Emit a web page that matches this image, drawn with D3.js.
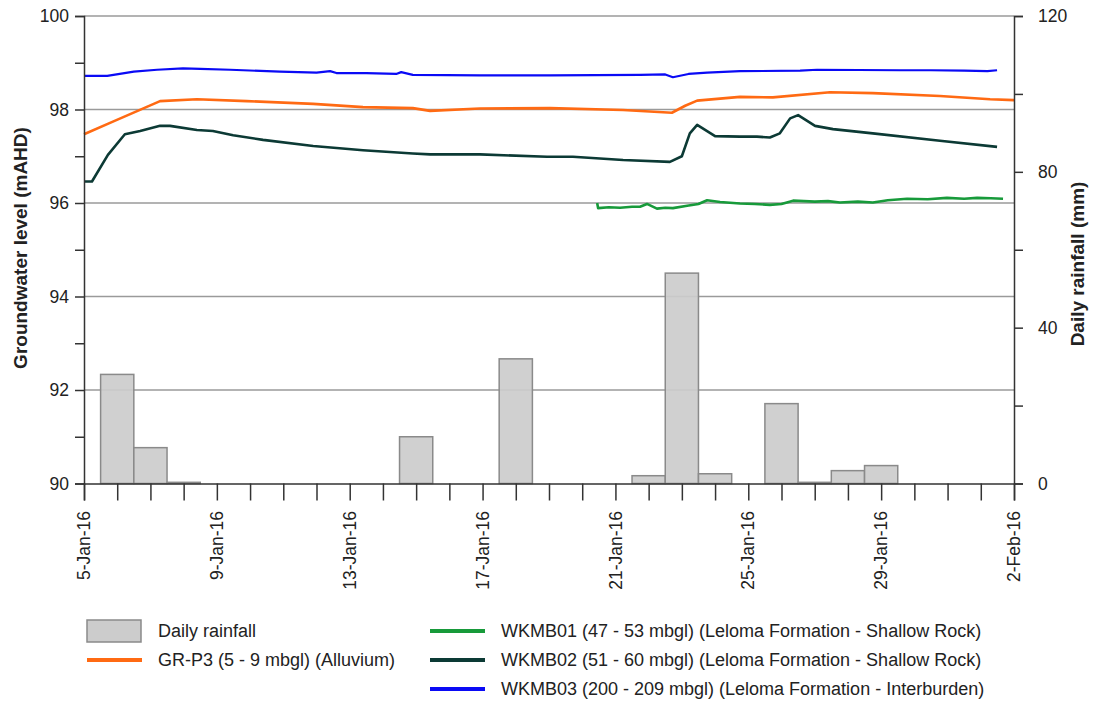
<!DOCTYPE html>
<html>
<head>
<meta charset="utf-8">
<script src="https://cdn.jsdelivr.net/npm/d3@7"></script>
<style>
  body { margin: 0; background: #fff; }
  svg text { font-family: "Liberation Sans", Arial, sans-serif; fill: #222; }
</style>
</head>
<body>
<div id="chart"></div>
<script>
// rainfall, mm per day (bar centred on the day)
var rain_dates = ["2016-01-06", "2016-01-07", "2016-01-08", "2016-01-15", "2016-01-18", "2016-01-22",
    "2016-01-23", "2016-01-24", "2016-01-26", "2016-01-27", "2016-01-28", "2016-01-29"]
var rain_mm = [28, 9.2, 0.3, 12, 32, 2, 54, 2.5, 20.5, 0.3, 3.3, 4.6]

// groundwater levels, time = days after 5-Jan-16 00:00
var grp3_days = [0, 0.87, 2.29, 3.4, 4.9, 6.9, 8.4, 9.9, 10.42, 11.92, 14.03, 16.23, 17.7, 18.1, 18.46,
    19.75, 20.74, 22.46, 23.75, 25.77, 27.28, 28]
var grp3_level = [97.47, 97.74, 98.18, 98.22, 98.18, 98.12, 98.05, 98.03, 97.97, 98.02, 98.03, 97.99, 97.93,
    98.08, 98.19, 98.27, 98.26, 98.37, 98.35, 98.29, 98.22, 98.2]

var wkmb01_days = [15.45, 15.48, 15.8, 16.14, 16.5, 16.74, 16.95, 17.25, 17.5, 17.73, 18.16, 18.5, 18.76,
    19.15, 19.75, 20.2, 20.65, 21.0, 21.35, 22.0, 22.4, 22.76, 23.3, 23.75, 24.2, 24.78, 25.4, 25.98, 26.5, 26.89, 27.3, 27.67]
var wkmb01_level = [96.0, 95.89, 95.91, 95.9, 95.92, 95.92, 95.98, 95.88, 95.9, 95.89, 95.94, 95.98, 96.06,
    96.02, 95.99, 95.98, 95.96, 95.98, 96.05, 96.03, 96.04, 96.01, 96.03, 96.01, 96.06, 96.09, 96.08, 96.11, 96.09, 96.11, 96.1, 96.09]

var wkmb02_days = [0, 0.24, 0.72, 1.23, 1.69, 2.29, 2.59, 3.4, 3.88, 4.49, 5.39, 6.9, 8.4, 9.9, 10.42,
    11.92, 13.94, 14.72, 16.23, 17.64, 18.0, 18.24, 18.46, 19.0, 19.75, 20.26, 20.65, 20.95, 21.26, 21.5,
    22.01, 22.55, 23.75, 25.77, 27.49]
var wkmb02_level = [96.46, 96.46, 97.03, 97.47, 97.54, 97.65, 97.65, 97.56, 97.54, 97.45, 97.35, 97.22,
    97.13, 97.06, 97.04, 97.04, 96.99, 96.99, 96.92, 96.88, 97.0, 97.49, 97.67, 97.43, 97.42, 97.42, 97.4,
    97.49, 97.81, 97.88, 97.65, 97.58, 97.49, 97.33, 97.2]

var wkmb03_days = [0, 0.7, 1.5, 2.2, 2.98, 3.5, 4.4, 5.9, 7.0, 7.41, 7.6, 8.5, 9.4, 9.55, 9.9, 11.92,
    14.03, 16.74, 17.5, 17.73, 18.2, 18.76, 19.75, 21.56, 22.07, 24.57, 25.5, 26.5, 27.2, 27.49]
var wkmb03_level = [98.72, 98.72, 98.81, 98.85, 98.88, 98.87, 98.85, 98.81, 98.79, 98.82, 98.78, 98.78,
    98.76, 98.8, 98.74, 98.73, 98.73, 98.74, 98.75, 98.69, 98.76, 98.79, 98.82, 98.83, 98.85, 98.84, 98.84,
    98.83, 98.82, 98.84]

var series_names = ["GR-P3 (5 - 9 mbgl) (Alluvium)",
    "WKMB01 (47 - 53 mbgl) (Leloma Formation - Shallow Rock)",
    "WKMB02 (51 - 60 mbgl) (Leloma Formation - Shallow Rock)",
    "WKMB03 (200 - 209 mbgl) (Leloma Formation - Interburden)"]
var series_colors = ["#ff6a13", "#179a3a", "#0c3a35", "#0a0af5"]

var width = 1096, height = 703
var pad = { left: 84, right: 1014, top: 16, bottom: 483.5 }
var start = new Date(2016, 0, 5)
var end = new Date(2016, 1, 2)
var day_ms = 864e5

function to_date(d) { return new Date(start.getTime() + d * day_ms) }

var x_scale = d3.scaleTime().domain([start, end]).range([pad.left, pad.right])
var y_left = d3.scaleLinear().domain([90, 100]).range([pad.bottom, pad.top])
var y_right = d3.scaleLinear().domain([0, 120]).range([pad.bottom, pad.top])

var svg = d3.select("#chart").append("svg")
    .attr("width", width)
    .attr("height", height)

// grid
svg.selectAll(".grid").data([92, 94, 96, 98, 100])
    .enter().append("line")
    .attr("x1", pad.left).attr("x2", pad.right)
    .attr("y1", function (d) { return y_left(d) })
    .attr("y2", function (d) { return y_left(d) })
    .attr("stroke", "#9a9a9a")
    .attr("stroke-width", 1.5)

// rainfall bars
var rain = rain_dates.map(function (d, i) { return { date: d3.timeParse("%Y-%m-%d")(d), value: rain_mm[i] } })
svg.selectAll(".bar").data(rain)
    .enter().append("rect")
    .attr("x", function (d) { return x_scale(new Date(d.date.getTime() - day_ms / 2)) })
    .attr("width", function (d) { return x_scale(new Date(d.date.getTime() + day_ms / 2)) - x_scale(new Date(d.date.getTime() - day_ms / 2)) })
    .attr("y", function (d) { return y_right(d.value) })
    .attr("height", function (d) { return y_right(0) - y_right(d.value) })
    .attr("fill", "#cccccc")
    .attr("fill-opacity", 0.92)
    .attr("stroke", "#8a8a8a")
    .attr("stroke-width", 1.5)

// level lines
var all_days = [grp3_days, wkmb01_days, wkmb02_days, wkmb03_days]
var all_levels = [grp3_level, wkmb01_level, wkmb02_level, wkmb03_level]
var line = d3.line()
    .x(function (d) { return x_scale(to_date(d[0])) })
    .y(function (d) { return y_left(d[1]) })
for (var s = 0; s < 4; ++s) {
    var pts = all_days[s].map(function (d, i) { return [d, all_levels[s][i]] })
    svg.append("path")
        .datum(pts)
        .attr("d", line)
        .attr("fill", "none")
        .attr("stroke", series_colors[s])
        .attr("stroke-width", s == 3 ? 2.2 : 2.6)
        .attr("stroke-linejoin", "round")
}

// axes
var left_axis = svg.append("g")
    .attr("transform", "translate(" + pad.left + ",0)")
    .call(d3.axisLeft(y_left).tickValues(d3.range(90, 101, 1))
        .tickFormat(function (d) { return d % 2 == 0 ? d : "" })
        .tickSize(9).tickPadding(6))
var right_axis = svg.append("g")
    .attr("transform", "translate(" + pad.right + ",0)")
    .call(d3.axisRight(y_right).tickValues(d3.range(0, 121, 20))
        .tickFormat(function (d) { return d % 40 == 0 ? d : "" })
        .tickSize(9).tickPadding(15))
var bottom_axis = svg.append("g")
    .attr("transform", "translate(0," + pad.bottom + ")")
    .call(d3.axisBottom(x_scale).ticks(d3.timeDay.every(1)).tickSize(17).tickFormat(""))

svg.selectAll(".domain").attr("stroke", "#333").attr("stroke-width", 1.5)
svg.selectAll(".tick line").attr("stroke", "#333").attr("stroke-width", 1.5)
svg.selectAll(".tick text").attr("font-size", 17.5).attr("fill", "#222")
    .style("font-family", "'Liberation Sans', Arial, sans-serif")

// date labels every 4 days
var label_dates = d3.timeDay.range(start, new Date(2016, 1, 3), 4)
svg.selectAll(".date-label").data(label_dates)
    .enter().append("text")
    .attr("transform", function (d) { return "translate(" + x_scale(d) + ",511) rotate(-90)" })
    .attr("dy", "0.35em")
    .attr("text-anchor", "end")
    .attr("font-size", 17.5)
    .text(d3.timeFormat("%-d-%b-%y"))

// axis titles
svg.append("text")
    .attr("transform", "translate(20,248) rotate(-90)")
    .attr("dy", "0.35em")
    .attr("text-anchor", "middle")
    .attr("font-size", 19)
    .attr("font-weight", "bold")
    .text("Groundwater level (mAHD)")
svg.append("text")
    .attr("transform", "translate(1077,264) rotate(-90)")
    .attr("dy", "0.35em")
    .attr("text-anchor", "middle")
    .attr("font-size", 19)
    .attr("font-weight", "bold")
    .text("Daily rainfall (mm)")

// legend
var lg = svg.append("g").attr("font-size", 18)
lg.append("rect")
    .attr("x", 87).attr("y", 620).attr("width", 54).attr("height", 22)
    .attr("fill", "#cccccc").attr("stroke", "#8a8a8a").attr("stroke-width", 1.5)
lg.append("text").attr("x", 158).attr("y", 631).attr("dy", "0.35em").text("Daily rainfall")
var legend_pos = [[87, 660], [430, 631], [430, 660], [430, 689]]
for (var s = 0; s < 4; ++s) {
    lg.append("line")
        .attr("x1", legend_pos[s][0]).attr("x2", legend_pos[s][0] + 55)
        .attr("y1", legend_pos[s][1]).attr("y2", legend_pos[s][1])
        .attr("stroke", series_colors[s]).attr("stroke-width", 4)
    lg.append("text")
        .attr("x", legend_pos[s][0] + 71).attr("y", legend_pos[s][1])
        .attr("dy", "0.35em")
        .text(series_names[s])
}
</script>
</body>
</html>
